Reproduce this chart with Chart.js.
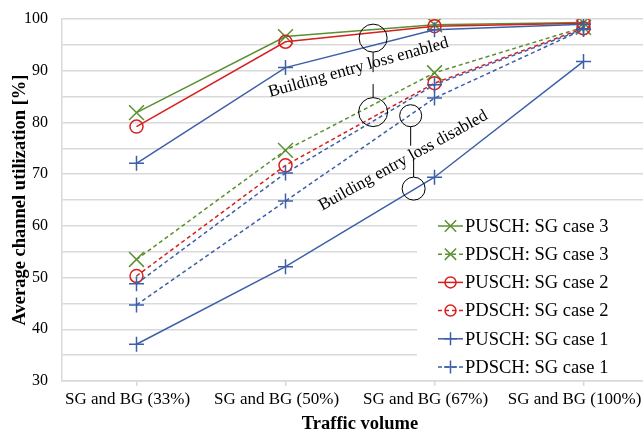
<!DOCTYPE html>
<html>
<head>
<meta charset="utf-8">
<script src="https://cdn.jsdelivr.net/npm/chart.js@4.4.1/dist/chart.umd.min.js"></script>
<style>
  html, body { margin: 0; padding: 0; background: #fff; overflow: hidden; width: 643px; height: 433px; }
  #chart { position: absolute; left: 0; top: 0; }
</style>
</head>
<body>
<canvas id="chart" width="670" height="433"></canvas>
<script>
// channel utilization vs traffic volume
const categories = ['SG and BG (33%)', 'SG and BG (50%)', 'SG and BG (67%)', 'SG and BG (100%)'];

// building entry loss enabled
const puschCase3 = [81.9, 96.6, 98.9, 99.3];
const pdschCase3 = [53.5, 74.6, 89.6, 98.4];
const puschCase2 = [79.2, 95.6, 98.6, 99.2];
const pdschCase2 = [50.3, 71.7, 87.6, 98.2];
const puschCase1 = [72.1, 90.6, 97.9, 99.0];
const pdschCase1 = [48.8, 70.2, 87.3, 98.0];

// building entry loss disabled (case 1 only)
const puschCase1Off = [37.1, 52.1, 69.4, 91.8];
const pdschCase1Off = [44.7, 64.8, 84.7, 98.0];

const yMin = 30;
const yMax = 100;

const GREEN = '#5b9032';
const RED = '#d81e1e';
const BLUE = '#3d5fa8';
const SERIF = "'Liberation Serif', 'Times New Roman', serif";

function series(label, data, color, style, dashed, radius, inLegend) {
    return {
        label: label,
        data: data,
        borderColor: color,
        backgroundColor: 'rgba(0,0,0,0)',
        borderWidth: 1.5,
        borderDash: dashed ? [4, 3] : [],
        pointStyle: style,
        pointRadius: radius,
        pointHoverRadius: radius,
        pointBorderWidth: 1.5,
        pointBorderColor: color,
        pointBackgroundColor: 'rgba(0,0,0,0)',
        tension: 0,
        inLegend: inLegend
    };
}

const datasets = [
    series('PDSCH: SG case 1 (BEL off)', pdschCase1Off, BLUE, 'cross', true, 7.5, false),
    series('PUSCH: SG case 1 (BEL off)', puschCase1Off, BLUE, 'cross', false, 7.5, false),
    series('PDSCH: SG case 1', pdschCase1, BLUE, 'cross', true, 7.5, true),
    series('PUSCH: SG case 1', puschCase1, BLUE, 'cross', false, 7.5, true),
    series('PDSCH: SG case 2', pdschCase2, RED, 'circle', true, 6.5, true),
    series('PUSCH: SG case 2', puschCase2, RED, 'circle', false, 6.5, true),
    series('PDSCH: SG case 3', pdschCase3, GREEN, 'crossRot', true, 10.5, true),
    series('PUSCH: SG case 3', puschCase3, GREEN, 'crossRot', false, 10.5, true)
];

const legendOrder = ['PUSCH: SG case 3', 'PDSCH: SG case 3', 'PUSCH: SG case 2',
                     'PDSCH: SG case 2', 'PUSCH: SG case 1', 'PDSCH: SG case 1'];

// legend box inside the plot, lower right
const insideLegend = {
    id: 'insideLegend',
    beforeDatasetsDraw(chart) {
        const ctx = chart.ctx;
        const left = 417, top = 211, rowH = 28.2;
        ctx.save();
        ctx.fillStyle = '#fff';
        ctx.fillRect(left, top, chart.width - left, 379 - top);
        ctx.font = '18.5px ' + SERIF;
        ctx.textBaseline = 'middle';
        ctx.textAlign = 'left';
        legendOrder.forEach((name, i) => {
            const ds = chart.data.datasets.find(d => d.label === name);
            const y = top + 15 + i * rowH;
            ctx.strokeStyle = ds.borderColor;
            ctx.lineWidth = 1.5;
            ctx.setLineDash(ds.borderDash);
            ctx.beginPath();
            ctx.moveTo(438, y);
            ctx.lineTo(463, y);
            ctx.stroke();
            ctx.setLineDash([]);
            ctx.fillStyle = 'rgba(0,0,0,0)';
            Chart.helpers.drawPoint(ctx, {
                pointStyle: ds.pointStyle,
                radius: ds.pointStyle === 'crossRot' ? 8 : (ds.pointStyle === 'circle' ? 5.5 : 6.5),
                borderWidth: 1.5,
                rotation: 0
            }, 450.5, y);
            ctx.fillStyle = '#000';
            ctx.fillText(name, 465, y + 1);
        });
        ctx.restore();
    }
};

// callout circles and labels
const callouts = {
    id: 'callouts',
    afterDatasetsDraw(chart) {
        const ctx = chart.ctx;
        const xs = chart.scales.x, ys = chart.scales.y;
        const px = v => xs.getPixelForValue(v);
        const py = v => ys.getPixelForValue(v);
        ctx.save();
        ctx.strokeStyle = '#000';
        ctx.lineWidth = 1;

        function ring(x, y, r) {
            ctx.beginPath();
            ctx.arc(x, y, r, 0, Math.PI * 2);
            ctx.stroke();
        }
        function seg(x1, y1, x2, y2) {
            ctx.beginPath();
            ctx.moveTo(x1, y1);
            ctx.lineTo(x2, y2);
            ctx.stroke();
        }
        function label(text, x, y, deg) {
            ctx.save();
            ctx.translate(x, y);
            ctx.rotate(deg * Math.PI / 180);
            ctx.font = '17px ' + SERIF;
            ctx.fillStyle = '#000';
            ctx.textAlign = 'center';
            ctx.textBaseline = 'middle';
            ctx.fillText(text, 0, 0);
            ctx.restore();
        }

        // enabled
        const ex = px(1.588);
        const e1 = py(96.3), e2 = py(82.0);
        ring(ex, e1, 14);
        ring(ex, e2, 14.5);
        seg(ex, e1 + 14, ex, e1 + 34);
        seg(ex, e2 - 28, ex, e2 - 14.5);
        label('Building entry loss enabled', px(1.49), py(90.6), -15.6);

        // disabled
        const d1x = px(1.84), d2x = px(1.86);
        const d1 = py(81.3), d2 = py(67.2);
        ring(d1x, d1, 11);
        ring(d2x, d2, 11.5);
        seg(d1x, d1 + 11, d1x, d1 + 30);
        seg(d2x, d2 - 30, d2x, d2 - 11.5);
        label('Building entry loss disabled', px(1.79), py(72.6), -29);
        ctx.restore();
    }
};

new Chart(document.getElementById('chart'), {
    type: 'line',
    data: {
        labels: categories,
        datasets: datasets
    },
    options: {
        responsive: false,
        animation: false,
        devicePixelRatio: 1,
        layout: { padding: { top: 19, right: 3, left: 0, bottom: 0 } },
        plugins: {
            legend: { display: false },
            tooltip: { enabled: false }
        },
        scales: {
            x: {
                type: 'category',
                offset: true,
                afterFit: s => {
                    s.height = 52;
                    s.paddingLeft = 0;
                    s.paddingRight = 0;
                },
                grid: {
                    offset: false,
                    drawOnChartArea: false,
                    drawTicks: true,
                    tickLength: 5,
                    color: '#d9d9d9',
                    lineWidth: 1.5
                },
                border: { color: '#d9d9d9', width: 1.5 },
                ticks: {
                    color: '#000',
                    font: { family: SERIF, size: 17 },
                    padding: 3,
                    labelOffset: -9,
                    maxRotation: 0,
                    autoSkip: false
                },
                title: {
                    display: true,
                    text: 'Traffic volume',
                    color: '#000',
                    font: { family: SERIF, size: 18.5, weight: 'bold', lineHeight: 1 },
                    padding: { top: 0, bottom: 0 }
                }
            },
            y: {
                min: yMin,
                max: yMax,
                afterFit: s => {
                    s.width = 62;
                    s.paddingTop = 0;
                    s.paddingBottom = 0;
                },
                grid: {
                    color: '#d9d9d9',
                    lineWidth: 1.5,
                    drawTicks: false
                },
                border: { color: '#d9d9d9', width: 1.5 },
                ticks: {
                    stepSize: 5,
                    color: '#000',
                    font: { family: SERIF, size: 16 },
                    padding: 14,
                    callback: v => (v % 10 === 0 ? v : '')
                },
                title: {
                    display: true,
                    text: 'Average channel utilization [%]',
                    color: '#000',
                    font: { family: SERIF, size: 18.5, weight: 'bold', lineHeight: 1 },
                    padding: { top: 11, bottom: 0 }
                }
            }
        }
    },
    plugins: [insideLegend, callouts]
});
</script>
</body>
</html>
